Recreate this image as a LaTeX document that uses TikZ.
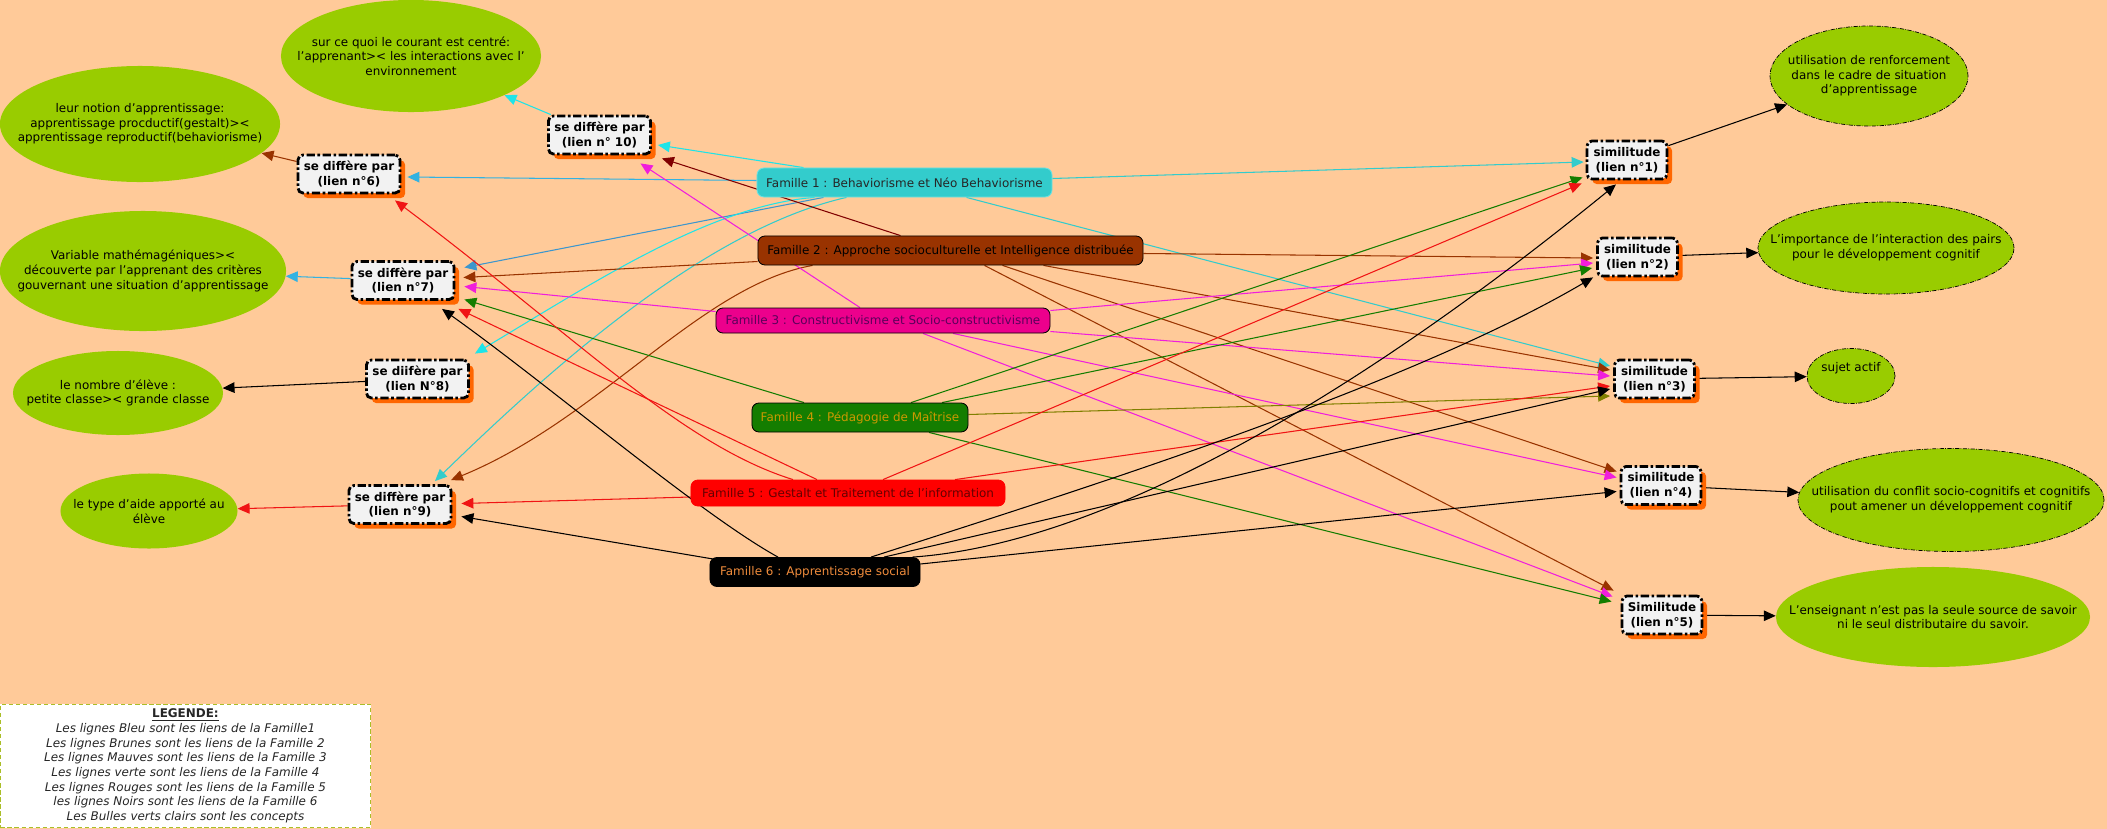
\documentclass[tikz,border=0pt]{standalone}
\usepackage{fontspec}
\setmainfont{DejaVu Sans}
\usetikzlibrary{shapes,arrows.meta,positioning,calc,shadows}

\definecolor{fond}{RGB}{255,202,153}
\definecolor{vertbulle}{RGB}{153,204,0}
\definecolor{boite}{RGB}{242,242,242}
\definecolor{ombre}{RGB}{255,102,0}
\definecolor{fam1}{RGB}{51,204,204}
\definecolor{fam1bord}{RGB}{110,225,225}
\definecolor{fam1clair}{RGB}{30,228,232}
\definecolor{fam1ciel}{RGB}{51,178,225}
\definecolor{fam1acier}{RGB}{60,150,205}
\definecolor{fam2}{RGB}{153,51,0}
\definecolor{fam2fonce}{RGB}{128,0,0}
\definecolor{fam3}{RGB}{240,30,220}
\definecolor{fam3texte}{RGB}{90,0,90}
\definecolor{fam4}{RGB}{20,125,0}
\definecolor{fam4olive}{RGB}{128,128,0}
\definecolor{fam4texte}{RGB}{204,153,0}
\definecolor{fam5}{RGB}{240,20,20}
\definecolor{fam5texte}{RGB}{100,0,0}
\definecolor{fam6texte}{RGB}{240,140,60}
\definecolor{legendebord}{RGB}{170,190,40}

\pgfdeclarelayer{fondplan}
\pgfdeclarelayer{liens}
\pgfsetlayers{fondplan,liens,main}

\begin{document}
\begin{tikzpicture}[x=0.025cm, y=-0.025cm,
    every node/.style={font=\fontsize{8.5}{10.4}\selectfont},
    famille/.style={rectangle, rounded corners=5pt, draw=black, line width=0.6pt, minimum height=0.725cm, inner xsep=2pt, inner ysep=1pt, align=center},
    boitelien/.style={rectangle, rounded corners=3.5pt, draw=black, fill=boite, line width=2pt, dash pattern=on 6pt off 1.8pt on 1.8pt off 1.8pt, minimum height=0.95cm, inner sep=1pt, align=center, font=\fontsize{8.5}{10.4}\selectfont\bfseries, drop shadow={shadow xshift=0.13cm, shadow yshift=-0.13cm, fill=ombre, opacity=1}},
    difference/.style={boitelien, minimum width=2.55cm},
    similitude/.style={boitelien, minimum width=2cm},
    bulle/.style={ellipse, fill=vertbulle, inner sep=0pt},
    bullepointillee/.style={bulle, draw=black, line width=0.5pt, densely dash dot},
    bulletexte/.style={align=center, inner sep=0pt, text=black},
    legende/.style={rectangle, draw=legendebord, fill=white, densely dashed, line width=0.6pt, minimum width=9.25cm, minimum height=3.05cm, align=center, text=black!85},
    fleche/.style={-{Triangle[length=8.5pt,width=7.5pt]}, line width=0.75pt}
  ]
  \useasboundingbox (0,0) rectangle (2107,829);
  \begin{pgfonlayer}{fondplan}
    \fill[fond] (0,0) rectangle (2107,829);
  \end{pgfonlayer}

  \node[famille, fill=fam1, draw=fam1bord, text=black!85, minimum width=7.375cm] (F1) at (904.5,182.5) {Famille 1 : Behaviorisme et Néo Behaviorisme};
  \node[famille, fill=fam2, text=black, minimum width=9.625cm] (F2) at (950.5,250.5) {Famille 2 : Approche socioculturelle et Intelligence distribuée};
  \node[famille, fill=magenta, text=fam3texte, minimum width=8.35cm, minimum height=0.625cm] (F3) at (883,320.5) {Famille 3 : Constructivisme et Socio-constructivisme};
  \node[famille, fill=fam4, text=fam4texte, minimum width=5.4cm] (F4) at (860,417.5) {Famille 4 : Pédagogie de Maîtrise};
  \node[famille, fill=red, draw=red, text=fam5texte, minimum width=7.85cm, minimum height=0.65cm] (F5) at (848,493) {Famille 5 : Gestalt et Traitement de l'information};
  \node[famille, fill=black, text=fam6texte, minimum width=5.25cm] (F6) at (815,572) {Famille 6 : Apprentissage social};

  \node[difference] (B10) at (599.5,135) {se diffère par\\(lien n° 10)};
  \node[difference] (B6) at (349,174) {se diffère par\\(lien n°6)};
  \node[difference] (B7) at (403,280.5) {se diffère par\\(lien n°7)};
  \node[difference] (B8) at (417.5,379) {se diifère par\\(lien N°8)};
  \node[difference] (B9) at (400,504.5) {se diffère par\\(lien n°9)};

  \node[similitude] (S1) at (1627,160) {similitude\\(lien n°1)};
  \node[similitude] (S2) at (1637.5,257) {similitude\\(lien n°2)};
  \node[similitude] (S3) at (1654.5,379) {similitude\\(lien n°3)};
  \node[similitude] (S4) at (1661,485.5) {similitude\\(lien n°4)};
  \node[similitude] (S5) at (1662,615) {Similitude\\(lien n°5)};

  \node[bulle, minimum width=6.5cm, minimum height=2.8cm, label={[bulletexte]center:{sur ce quoi le courant est centré:\\l'apprenant>< les interactions avec l'\\environnement}}] (Ecentre) at (411,56) {};
  \node[bulle, minimum width=7cm, minimum height=2.9cm, label={[bulletexte]center:{leur notion d'apprentissage:\\apprentissage procductif(gestalt)><\\apprentissage reproductif(behaviorisme)}}] (Enotion) at (140,124) {};
  \node[bulle, minimum width=7.15cm, minimum height=3cm, label={[bulletexte]center:{Variable mathémagéniques><\\découverte par l'apprenant des critères\\gouvernant une situation d'apprentissage}}] (Evariable) at (143,271) {};
  \node[bulle, minimum width=5.25cm, minimum height=2.1cm, label={[bulletexte]center:{le nombre d'élève :\\petite classe>< grande classe}}] (Enombre) at (118,393) {};
  \node[bulle, minimum width=4.425cm, minimum height=1.875cm, label={[bulletexte]center:{le type d'aide apporté au\\élève}}] (Etype) at (149,511) {};

  \node[bullepointillee, minimum width=4.95cm, minimum height=2.5cm, label={[bulletexte]center:{utilisation de renforcement\\dans le cadre de situation\\d'apprentissage}}] (Erenf) at (1869,76) {};
  \node[bullepointillee, minimum width=6.4cm, minimum height=2.3cm, label={[bulletexte]center:{L'importance de l'interaction des pairs\\pour le développement cognitif}}] (Eimport) at (1886,248) {};
  \node[bullepointillee, minimum width=2.2cm, minimum height=1.375cm, label={[bulletexte, yshift=0.2cm]center:{sujet actif}}] (Esujet) at (1851,376) {};
  \node[bullepointillee, minimum width=7.65cm, minimum height=2.575cm, label={[bulletexte]center:{utilisation du conflit socio-cognitifs et cognitifs\\pout amener un développement cognitif}}] (Econflit) at (1951,500) {};
  \node[bulle, minimum width=7.85cm, minimum height=2.5cm, label={[bulletexte]center:{L'enseignant n'est pas la seule source de savoir\\ni le seul distributaire du savoir.}}] (Eens) at (1933,617) {};

  \node[legende, anchor=north west] (legende) at (0,704) {\underline{\textbf{LEGENDE:}}\\
    \textit{Les lignes Bleu sont les liens de la Famille1}\\
    \textit{Les lignes Brunes sont les liens de la Famille 2}\\
    \textit{Les lignes Mauves sont les liens de la Famille 3}\\
    \textit{Les lignes verte sont les liens de la Famille 4}\\
    \textit{Les lignes Rouges sont les liens de la Famille 5}\\
    \textit{les lignes Noirs sont les liens de la Famille 6}\\
    \textit{Les Bulles verts clairs sont les concepts}};

  \begin{pgfonlayer}{liens}
    \draw[fleche, fam1clair] ($(F1.north)+(-101,0)$) -- ($(B10.east)+(6,10)$);
    \draw[fleche, fam1ciel] ($(F1.west)+(0,-2)$) -- ($(B6.east)+(6,3)$);
    \draw[fleche, fam1acier] ($(F1.south)+(-81,0)$) -- ($(B7.east)+(9,-13)$);
    \draw[fleche, fam1clair] ($(F1.south)+(-90,0)$) .. controls +(-104,8) and +(117,-70) .. ($(B8.north east)+(5,-5)$);
    \draw[fleche, fam1] ($(F1.south)+(-58,0)$) .. controls +(-146,33) and +(105,-102) .. ($(B9.north)+(35,-3)$);
    \draw[fleche, fam1] ($(F1.east)+(0,-4)$) -- ($(S1.west)+(-2,2)$);
    \draw[fleche, fam1] ($(F1.south)+(62,0)$) -- ($(S3.west)+(-3,-13)$);

    \draw[fleche, fam2fonce] ($(F2.north)+(-50,0)$) -- ($(B10.south east)+(10,3)$);
    \draw[fleche, fam2] ($(F2.west)+(0,11)$) -- ($(B7.east)+(8,-3)$);
    \draw[fleche, fam2] ($(F2.south)+(-138,0)$) .. controls +(-112,20) and +(149,-61) .. ($(B9.north)+(51,-4)$);
    \draw[fleche, fam2] ($(F2.east)+(0,3)$) -- ($(S2.west)+(-3,1)$);
    \draw[fleche, fam2] ($(F2.south)+(93,0)$) -- ($(S3.west)+(-3,-9)$);
    \draw[fleche, fam2] ($(F2.south)+(52,0)$) -- ($(S4.west)+(-3,-14)$);
    \draw[fleche, fam2] ($(F2.south)+(34,0)$) -- ($(S5.north west)+(-7,-4)$);

    \draw[fleche, fam3] ($(F3.north)+(-23,0)$) -- ($(B10.south)+(41,8)$);
    \draw[fleche, fam3] ($(F3.west)+(0,-9)$) -- ($(B7.east)+(9,6)$);
    \draw[fleche, fam3] ($(F3.east)+(0,-10)$) -- ($(S2.west)+(-3,6)$);
    \draw[fleche, fam3] ($(F3.east)+(0,11)$) -- ($(S3.west)+(-3,-3)$);
    \draw[fleche, fam3] ($(F3.south)+(70,0)$) -- ($(S4.west)+(-3,-8)$);
    \draw[fleche, fam3] ($(F3.south)+(40,0)$) -- ($(S5.north west)+(-8,2)$);

    \draw[fleche, fam4] ($(F4.north)+(-56,0)$) -- ($(B7.east)+(9,19)$);
    \draw[fleche, fam4] ($(F4.north)+(51,0)$) -- ($(S1.south west)+(-3,-3)$);
    \draw[fleche, fam4] ($(F4.north)+(82,0)$) -- ($(S2.west)+(-4,11)$);
    \draw[fleche, fam4olive] ($(F4.east)+(0,-3)$) -- ($(S3.west)+(-3,17)$);
    \draw[fleche, fam4] ($(F4.south)+(69,0)$) -- ($(S5.north west)+(-9,7)$);

    \draw[fleche, fam5] ($(F5.north)+(-55,0)$) .. controls +(-113,-35) and +(175,131) .. ($(B6.south)+(46,6)$);
    \draw[fleche, fam5] ($(F5.north)+(-31,0)$) -- ($(B7.south east)+(3,8)$);
    \draw[fleche, fam5] ($(F5.west)+(0,4)$) -- ($(B9.east)+(9,-1)$);
    \draw[fleche, fam5] ($(F5.north)+(35,0)$) -- ($(S1.south west)+(-4,3)$);
    \draw[fleche, fam5] ($(F5.north)+(107,0)$) -- ($(S3.west)+(-3,7)$);

    \draw[fleche, black] ($(F6.north)+(-37,0)$) .. controls +(-78,-43) and +(108,77) .. ($(B7.south)+(39,8)$);
    \draw[fleche, black] ($(F6.north west)+(4,2)$) -- ($(B9.east)+(9,12)$);
    \draw[fleche, black] ($(F6.north east)+(-8,0)$) .. controls +(188,-13) and +(-266,217) .. ($(S1.south)+(-11,4)$);
    \draw[fleche, black] ($(F6.north)+(56,0)$) .. controls +(179,-58) and +(-194,114) .. ($(S2.south west)+(-3,0)$);
    \draw[fleche, black] ($(F6.north)+(69,0)$) -- ($(S3.west)+(-3,10)$);
    \draw[fleche, black] ($(F6.east)+(0,-8)$) -- ($(S4.west)+(-3,6)$);

    \draw[fleche, fam1clair] (B10) -- (Ecentre);
    \draw[fleche, fam2] (B6) -- (Enotion);
    \draw[fleche, fam1ciel] (B7) -- (Evariable);
    \draw[fleche, black] (B8) -- (Enombre);
    \draw[fleche, fam5] (B9) -- (Etype);

    \draw[fleche, black] (S1) -- (Erenf);
    \draw[fleche, black] (S2) -- (Eimport);
    \draw[fleche, black] (S3) -- (Esujet);
    \draw[fleche, black] (S4) -- (Econflit);
    \draw[fleche, black] (S5) -- (Eens);
  \end{pgfonlayer}
\end{tikzpicture}
\end{document}
